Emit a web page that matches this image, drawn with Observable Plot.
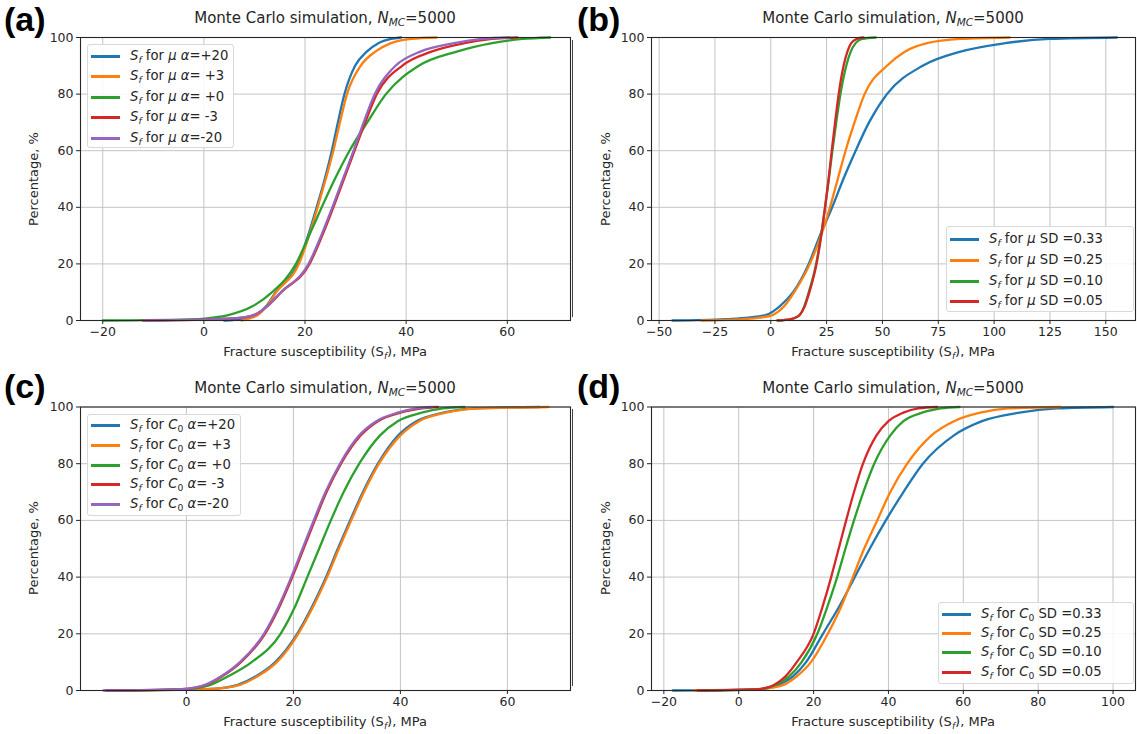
<!DOCTYPE html>
<html><head><meta charset="utf-8">
<script src="https://cdn.jsdelivr.net/npm/d3@7"></script>
<script src="https://cdn.jsdelivr.net/npm/@observablehq/plot@0.6"></script>
<style>
body{margin:0;background:#fff;font-family:"DejaVu Sans",sans-serif;color:#262626;}
#fig{position:relative;width:1137px;height:734px;overflow:hidden;background:#fff;}
.panel{position:absolute;}
.panel svg{background:transparent !important;}
.title{position:absolute;font-size:15px;line-height:1;white-space:nowrap;transform:translateX(-50%);}
.plabel{position:absolute;font-family:"Liberation Sans",Arial,sans-serif;font-weight:bold;font-size:34px;line-height:1;color:#000;}
.xlabel{position:absolute;font-size:13px;line-height:1;transform:translateX(-50%);white-space:nowrap;}
.ylabel{position:absolute;font-size:13px;line-height:1;transform:translate(-50%,-50%) rotate(-90deg);white-space:nowrap;}
.legend{position:absolute;border:1px solid #d9d9d9;border-radius:3px;background:rgba(255,255,255,0.85);box-sizing:border-box;}
.row{position:absolute;left:0;height:20px;font-size:13.2px;white-space:nowrap;line-height:20px;}
.sw{position:absolute;left:3px;top:9px;width:29px;height:3px;}
.row .txt{position:absolute;left:42px;top:0;}
sub{font-size:0.7em;vertical-align:-0.3em;line-height:0;}
.edge{position:absolute;width:1px;background:#444;}
</style></head>
<body><div id="fig"></div>
<script>
// ---------- data ----------
const colors = ["#1f77b4", "#ff7f0e", "#2ca02c", "#d62728", "#9467bd"];
const pctLevels = [0, 0.5, 1, 2, 5, 10, 20, 30, 40, 50, 60, 70, 80, 90, 95, 98, 99.5, 100];

// Panel (a): S_f for mu, alpha variants
const aNames = ["+20", "+3", "+0", "-3", "-20"];
const aBlue   = [4, 7.5, 9, 10.5, 12.3, 14.2, 18.6, 20.6, 22.3, 23.9, 25.3, 26.5, 27.8, 29.9, 32.2, 34.5, 37, 39];
const aOrange = [7.5, 8.6, 9.5, 10.7, 12.4, 14.3, 18.8, 20.8, 22.5, 24.1, 25.6, 26.9, 28.3, 31, 33.9, 37, 41, 46];
const aGreen  = [-20, -1, 1.8, 5, 9.6, 13.5, 18.2, 20.8, 23.3, 25.9, 28.8, 32.3, 36, 42.5, 50, 57, 63, 68.5];
const aRed    = [-12, 3, 7.5, 10, 12.5, 15.3, 20.9, 23.4, 25.6, 27.7, 29.8, 31.9, 34.2, 39.2, 45, 51.5, 57, 62];
const aPurple = [-12, 2.5, 7.5, 10, 12.5, 15.2, 20.7, 23.2, 25.4, 27.5, 29.6, 31.6, 33.8, 37.9, 42.8, 49.5, 55, 60.5];

// Panel (b): S_f for mu, SD variants
const bNames = ["0.33", "0.25", "0.10", "0.05"];
const bBlue   = [-44, -20, -10, -2, 4, 10, 17, 22, 27.5, 32.5, 38, 44, 52, 68, 85, 105, 125, 155];
const bOrange = [-31, -12, -5, 1, 6, 10.5, 17.5, 22.5, 26.5, 30, 33.5, 37.5, 42, 52, 60, 70, 85, 107];
const bGreen  = [3, 9, 11, 13, 15, 17, 20.3, 22.5, 24.3, 26, 27.6, 29.3, 31.2, 33.8, 35.8, 38, 41, 47];
const bRed    = [3, 9, 11, 13, 15.2, 17.3, 20.5, 22.6, 24.3, 25.9, 27.3, 28.8, 30.4, 32.6, 34.3, 36, 38.5, 41.5];

// Panel (c): S_f for C0, alpha variants
const cNames = ["+20", "+3", "+0", "-3", "-20"];
const cBlue   = [-15, 3.5, 7.2, 9.6, 13, 16.6, 20.7, 23.6, 26.1, 28.3, 30.6, 33, 35.8, 39.6, 43, 48, 54, 66];
const cOrange = [-14, 3.8, 7.5, 10, 13.3, 16.9, 20.9, 23.8, 26.3, 28.5, 30.8, 33.2, 36, 40, 43.5, 48.5, 55, 67.7];
const cGreen  = [-13, 0, 2.5, 4.5, 7.8, 12.2, 17.6, 20.4, 22.6, 24.8, 27, 29.4, 32.3, 36.2, 39.5, 44, 48, 52];
const cRed    = [-15, -0.8, 1.7, 3.7, 6.7, 10.2, 14.7, 17.5, 19.8, 21.9, 24, 26.2, 28.9, 32.6, 35.8, 40, 44, 47];
const cPurple = [-15.5, -1, 1.5, 3.5, 6.5, 10, 14.5, 17.3, 19.6, 21.7, 23.8, 26, 28.7, 32.3, 35.5, 39.5, 43, 46];

// Panel (d): S_f for C0, SD variants
const dNames = ["0.33", "0.25", "0.10", "0.05"];
const dBlue   = [-17.6, 5, 8, 10.5, 14.5, 18, 22.5, 27, 31, 35, 39.3, 44, 49.2, 57.5, 65, 75, 85, 100];
const dOrange = [-12, 6, 9, 12, 15.5, 19.3, 23.8, 27.5, 30.5, 33.5, 37, 40.5, 45, 51.5, 57.5, 64.5, 72, 86];
const dGreen  = [-10, 6, 8, 10, 13.5, 16.8, 21, 23.8, 26.3, 28.5, 30.8, 33.3, 36.2, 40.5, 44, 49, 54, 59];
const dRed    = [-11, 5.5, 7.5, 9.5, 12.5, 15.5, 20, 22.5, 24.7, 26.7, 28.7, 30.8, 33.2, 36.8, 40, 44, 48, 53];

const aTicks = [-20, 0, 20, 40, 60];
const bTicks = [-50, -25, 0, 25, 50, 75, 100, 125, 150];
const cTicks = [0, 20, 40, 60];
const dTicks = [-20, 0, 20, 40, 60, 80, 100];
const yTicks = [0, 20, 40, 60, 80, 100];

// ---------- build ----------
const fig = document.getElementById("fig");
function tidy(names, seriesList) {
  const rows = [];
  seriesList.forEach((xs, i) => xs.forEach((x, j) => rows.push({series: names[i], x, pct: pctLevels[j]})));
  return rows;
}
function el(tag, cls, html, style) {
  const e = document.createElement(tag);
  if (cls) e.className = cls;
  if (html != null) e.innerHTML = html;
  Object.assign(e.style, style || {});
  fig.appendChild(e);
  return e;
}
function panel(opts) {
  const {left, top, width, height, mL, mR, mT, mB, domain, ticks, names, series} = opts;
  const data = tidy(names, series);
  const chart = Plot.plot({
    width, height, marginLeft: mL, marginRight: mR, marginTop: mT, marginBottom: mB,
    style: {fontFamily: "DejaVu Sans, sans-serif", fontSize: "12.5px", color: "#262626", background: "transparent", overflow: "visible"},
    x: {domain, label: null},
    y: {domain: [0, 100], label: null},
    color: {domain: names, range: colors.slice(0, names.length)},
    marks: [
      Plot.gridX(ticks, {stroke: "#c4c4c4", strokeOpacity: 1, strokeWidth: 1}),
      Plot.gridY(yTicks, {stroke: "#c4c4c4", strokeOpacity: 1, strokeWidth: 1}),
      Plot.line(data, {x: "x", y: "pct", z: "series", stroke: "series", strokeWidth: 2.3, curve: "monotone-x", strokeLinejoin: "round"}),
      Plot.frame({stroke: "#262626", strokeWidth: 1.1}),
      Plot.axisX({ticks, tickSize: 4, tickPadding: 3, label: null}),
      Plot.axisY({ticks: yTicks, tickSize: 4, tickPadding: 3, label: null})
    ]
  });
  const wrap = el("div", "panel", null, {left: left + "px", top: top + "px", width: width + "px", height: height + "px"});
  wrap.appendChild(chart);
  const cx = left + mL + (width - mL - mR) / 2;
  const cy = top + mT + (height - mT - mB) / 2;
  el("div", "title", "Monte Carlo simulation, <i>N</i><sub><i>MC</i></sub>=5000", {left: cx + "px", top: (top + mT - 26) + "px"});
  el("div", "xlabel", "Fracture susceptibility (S<sub><i>f</i></sub>), MPa", {left: cx + "px", top: (top + height - mB + 25) + "px"});
  el("div", "ylabel", "Percentage, %", {left: (left + 33) + "px", top: cy + "px"});
  el("div", "plabel", opts.label, {left: opts.labelX + "px", top: (top + 2) + "px"});
  const lg = el("div", "legend", null, {left: opts.lg.x + "px", top: opts.lg.y + "px", width: opts.lg.w + "px", height: opts.lg.h + "px"});
  names.forEach((n, i) => {
    const r = document.createElement("div");
    r.className = "row";
    r.style.top = Math.round(opts.lg.first + i * opts.lg.step - 10) + "px";
    r.innerHTML = `<span class="sw" style="background:${colors[i]}"></span><span class="txt">${opts.entry(n)}</span>`;
    lg.appendChild(r);
  });
}

const muAlpha = n => `<i>S<sub>f</sub></i> for <i>μ</i> <i>α</i>=${n.length < 3 ? "&nbsp;" : ""}${n}`;
const muSD = n => `<i>S<sub>f</sub></i> for <i>μ</i> SD =${n}`;
const c0Alpha = n => `<i>S<sub>f</sub></i> for <i>C</i><sub>0</sub> <i>α</i>=${n.length < 3 ? "&nbsp;" : ""}${n}`;
const c0SD = n => `<i>S<sub>f</sub></i> for <i>C</i><sub>0</sub> SD =${n}`;

panel({left: 0, top: 0, width: 572, height: 367, mL: 80, mR: 2, mT: 37, mB: 47,
  domain: [-24.4, 72.5], ticks: aTicks, names: aNames,
  series: [aBlue, aOrange, aGreen, aRed, aPurple], label: "(a)", labelX: 4,
  lg: {x: 87, y: 44, w: 147, h: 104, first: 10.5, step: 20.6}, entry: muAlpha});
panel({left: 572, top: 0, width: 565, height: 367, mL: 79, mR: 2, mT: 37, mB: 47,
  domain: [-53.4, 163.3], ticks: bTicks, names: bNames,
  series: [bBlue, bOrange, bGreen, bRed], label: "(b)", labelX: 577,
  lg: {x: 946, y: 226, w: 188, h: 86, first: 12.3, step: 20.6}, entry: muSD});
panel({left: 0, top: 367, width: 572, height: 367, mL: 80, mR: 2, mT: 39.5, mB: 44,
  domain: [-19.8, 71.8], ticks: cTicks, names: cNames,
  series: [cBlue, cOrange, cGreen, cRed, cPurple], label: "(c)", labelX: 4,
  lg: {x: 87, y: 414, w: 154, h: 102, first: 10.3, step: 19.7}, entry: c0Alpha});
panel({left: 572, top: 367, width: 565, height: 367, mL: 79, mR: 2, mT: 39.5, mB: 44,
  domain: [-23.3, 106], ticks: dTicks, names: dNames,
  series: [dBlue, dOrange, dGreen, dRed], label: "(d)", labelX: 577,
  lg: {x: 938, y: 602, w: 196, h: 82, first: 10.7, step: 19.3}, entry: c0SD});

// thin panel edge lines seen left of (b) and (d)
el("div", "edge", null, {left: "572px", top: "40px", height: "277px"});
el("div", "edge", null, {left: "572px", top: "409px", height: "277px"});
</script>
</body></html>
